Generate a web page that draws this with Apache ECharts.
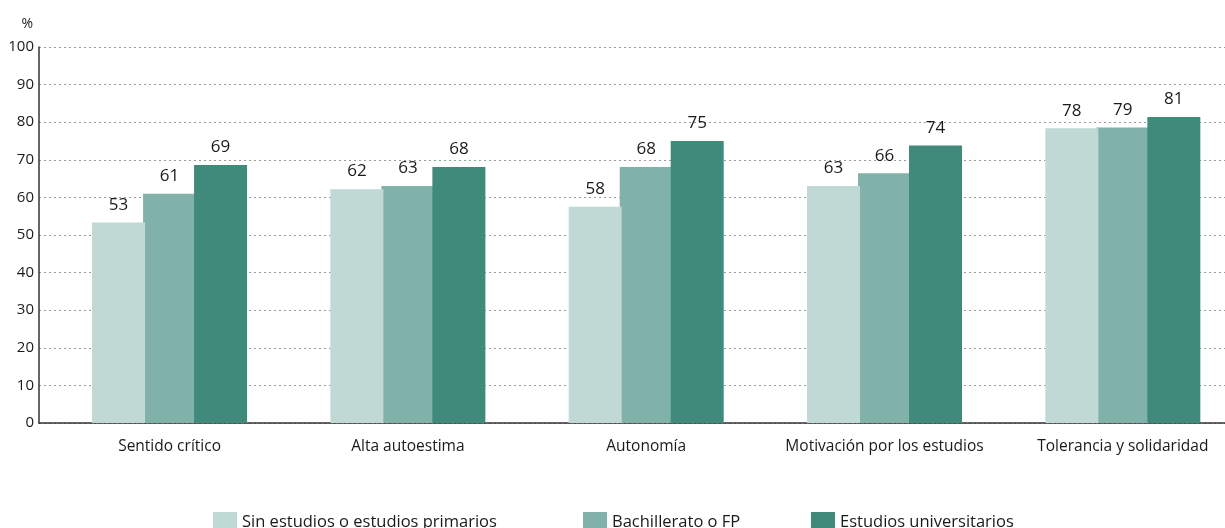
<!DOCTYPE html>
<html><head><meta charset="utf-8">
<script src="https://cdn.jsdelivr.net/npm/echarts@6/dist/echarts.min.js"></script>
<style>html,body{margin:0;padding:0;background:#fff;overflow:hidden;width:1225px;height:528px}#c{width:1242px;height:528px}</style>
</head><body><div id="c"></div>
<script>
const categories = ['Sentido crítico','Alta autoestima','Autonomía','Motivación por los estudios','Tolerancia y solidaridad'];
const seriesNames = ['Sin estudios o estudios primarios','Bachillerato o FP','Estudios universitarios'];
const sinEstudios = [53.3, 62.2, 57.5, 63.0, 78.4];
const bachillerato = [61.0, 63.0, 68.1, 66.4, 78.6];
const universitarios = [68.6, 68.1, 75.0, 73.8, 81.4];
const yTicks = {min: 0, max: 100, interval: 10};
const colors = ['#c0d9d5', '#81b2aa', '#408a7b'];
const FONT = 'Open Sans';

const seriesData = [sinEstudios, bachillerato, universitarios];
const chart = echarts.init(document.getElementById('c'), null, {renderer: 'canvas'});
const legendLefts = [213, 583, 811];
chart.setOption({
  animation: false,
  textStyle: {fontFamily: FONT},
  grid: [
    {left: 39, right: 17, top: 47, bottom: 105},
    {left: 50.4, right: 0, top: 47, bottom: 105}
  ],
  xAxis: [
    {gridIndex: 0, type: 'category', data: [''], axisLine: {show: true, lineStyle: {color: '#333', width: 1.5}}, axisTick: {show: false}, axisLabel: {show: false}},
    {gridIndex: 1, type: 'category', data: categories, axisLine: {show: false}, axisTick: {show: false},
      axisLabel: {interval: 0, color: '#1a1a1a', fontSize: 15.5, fontFamily: FONT, margin: 16}}
  ],
  yAxis: [
    {gridIndex: 0, type: 'value', min: yTicks.min, max: yTicks.max, interval: yTicks.interval,
      name: '%', nameLocation: 'end', nameGap: 16, nameTextStyle: {color: '#1a1a1a', fontSize: 14, fontFamily: FONT, align: 'right', padding: [0, 6, 0, 0]},
      axisLine: {show: true, lineStyle: {color: '#333', width: 1.5}}, axisTick: {show: false},
      axisLabel: {color: '#1a1a1a', fontSize: 15, fontFamily: FONT, margin: 5},
      splitLine: {show: true, lineStyle: {color: '#9a9a9a', type: [2, 3], width: 1}}},
    {gridIndex: 1, type: 'value', min: yTicks.min, max: yTicks.max, interval: yTicks.interval, show: false, splitLine: {show: false}}
  ],
  legend: seriesNames.map((n, i) => ({
    data: [n], left: legendLefts[i], top: 512, padding: 0, itemWidth: 24, itemHeight: 20, icon: 'rect',
    textStyle: {color: '#1a1a1a', fontSize: 16.5, fontFamily: FONT, padding: [5, 0, 0, 0]}, itemGap: 6
  })),
  series: seriesNames.map((n, i) => ({
    name: n, type: 'bar', xAxisIndex: 1, yAxisIndex: 1, data: seriesData[i],
    barWidth: 53, barGap: '-3.77%', z: i === 1 ? 2 : 3,
    itemStyle: {color: colors[i]},
    label: {show: true, position: 'top', distance: 9, color: '#1a1a1a', fontSize: 17, fontFamily: FONT,
      formatter: p => Math.round(p.value)}
  }))
});
</script></body></html>
